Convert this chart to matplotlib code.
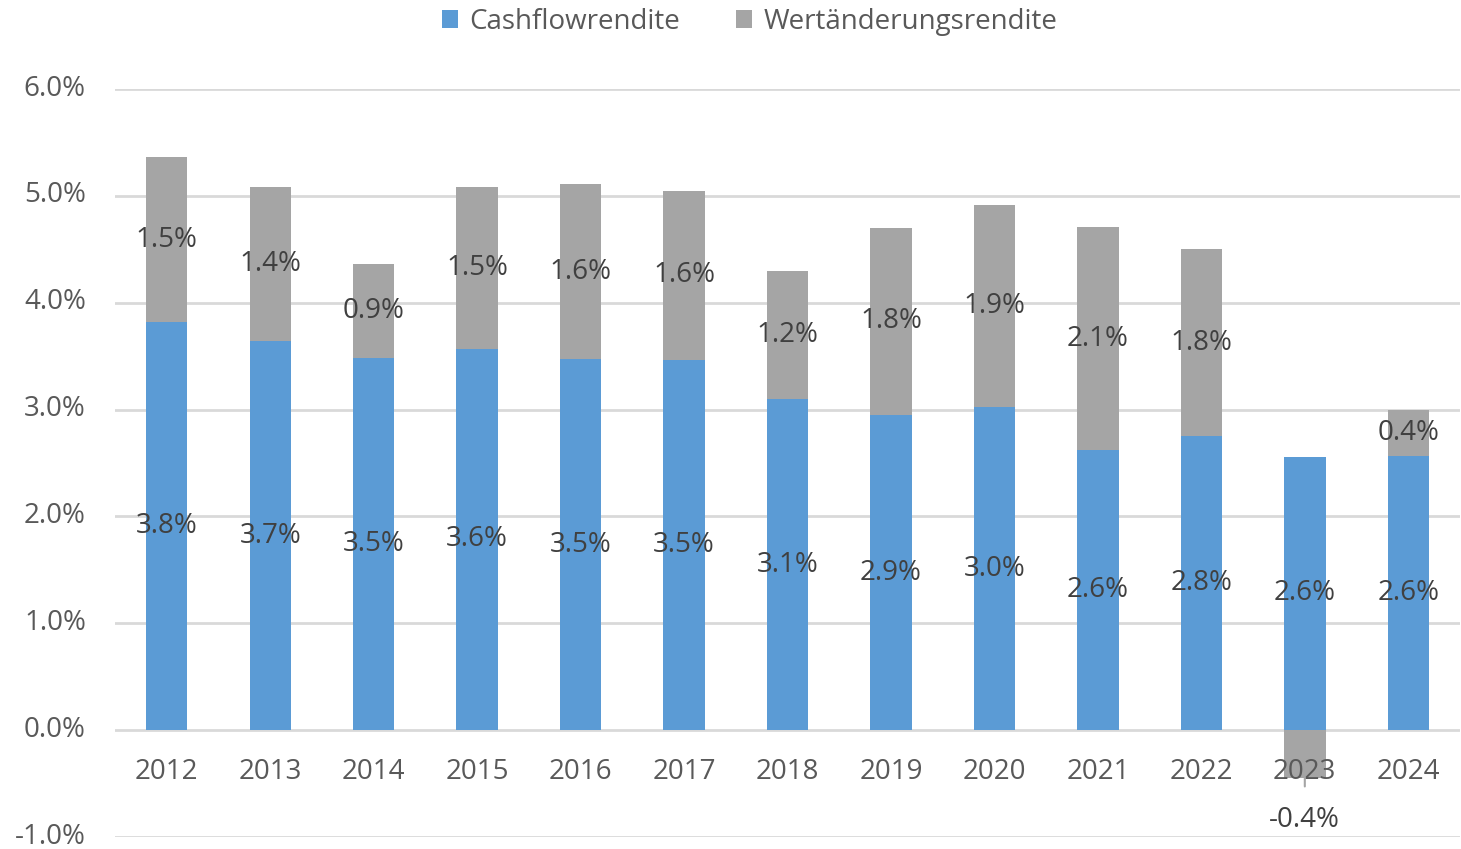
import matplotlib.pyplot as plt
from matplotlib.transforms import ScaledTranslation

years = ["2012", "2013", "2014", "2015", "2016", "2017", "2018",
         "2019", "2020", "2021", "2022", "2023", "2024"]
cashflow = [3.82, 3.64, 3.48, 3.57, 3.47, 3.46, 3.10, 2.95, 3.02, 2.62, 2.75, 2.56, 2.57]
wertaend = [1.54, 1.44, 0.88, 1.51, 1.64, 1.59, 1.20, 1.75, 1.89, 2.09, 1.75, -0.45, 0.43]
cashflow_labels = ["3.8%", "3.7%", "3.5%", "3.6%", "3.5%", "3.5%", "3.1%",
                   "2.9%", "3.0%", "2.6%", "2.8%", "2.6%", "2.6%"]
wertaend_labels = ["1.5%", "1.4%", "0.9%", "1.5%", "1.6%", "1.6%", "1.2%",
                   "1.8%", "1.9%", "2.1%", "1.8%", "-0.4%", "0.4%"]

BLUE = "#5B9BD5"
GRAY = "#A5A5A5"
TXT = "#595959"
LBL = "#404040"
FS = 20

plt.rcParams["font.family"] = ["Open Sans", "DejaVu Sans"]

fig = plt.figure(figsize=(14.61, 8.49), dpi=100)
ax = fig.add_axes([115 / 1461, 1 - 837 / 849, 1345 / 1461, 748 / 849])

x = list(range(len(years)))
b1 = ax.bar(x, cashflow, width=0.4, color=BLUE, label="Cashflowrendite", zorder=3)
bottoms = [c if w >= 0 else 0 for c, w in zip(cashflow, wertaend)]
b2 = ax.bar(x, wertaend, width=0.4, bottom=bottoms, color=GRAY,
            label="Wertänderungsrendite", zorder=3)

for i in x:
    ax.text(i, cashflow[i] / 2, cashflow_labels[i], ha="center", va="center",
            fontsize=FS, color=LBL, zorder=5)
    if wertaend[i] >= 0:
        ax.text(i, cashflow[i] + wertaend[i] / 2, wertaend_labels[i], ha="center",
                va="center", fontsize=FS, color=LBL, zorder=5)
    else:
        ax.annotate(wertaend_labels[i], xy=(i, -0.44), xytext=(i, -0.84),
                    ha="center", va="center", fontsize=FS, color=LBL, zorder=5,
                    arrowprops=dict(arrowstyle="-", color=GRAY, lw=1.5,
                                    shrinkA=12, shrinkB=0))
    ax.text(i, -0.39, years[i], ha="center", va="center", fontsize=FS,
            color=TXT, zorder=4)

ax.set_xlim(-0.5, len(years) - 0.5)
ax.set_ylim(-1, 6)
ax.set_yticks(range(-1, 7))
ax.set_yticklabels(["%.1f%%" % v for v in range(-1, 7)], fontsize=FS, color=TXT)
ax.set_xticks([])
ax.tick_params(axis="y", length=0, pad=21)
shift = ScaledTranslation(0, 4 / 100, fig.dpi_scale_trans)
for lbl in ax.get_yticklabels():
    lbl.set_transform(lbl.get_transform() + shift)
ax.grid(axis="y", color="#D9D9D9", lw=2, zorder=0)
for s in ax.spines.values():
    s.set_visible(False)
ax.set_facecolor("none")

fig.legend(handles=[b1, b2], loc="upper center", bbox_to_anchor=(0.513, 1.02),
           ncol=2, frameon=False, fontsize=FS, handlelength=0.6, handleheight=0.6,
           columnspacing=2.0, handletextpad=0.4, labelcolor=TXT)

fig.savefig("out.png", dpi=100)
